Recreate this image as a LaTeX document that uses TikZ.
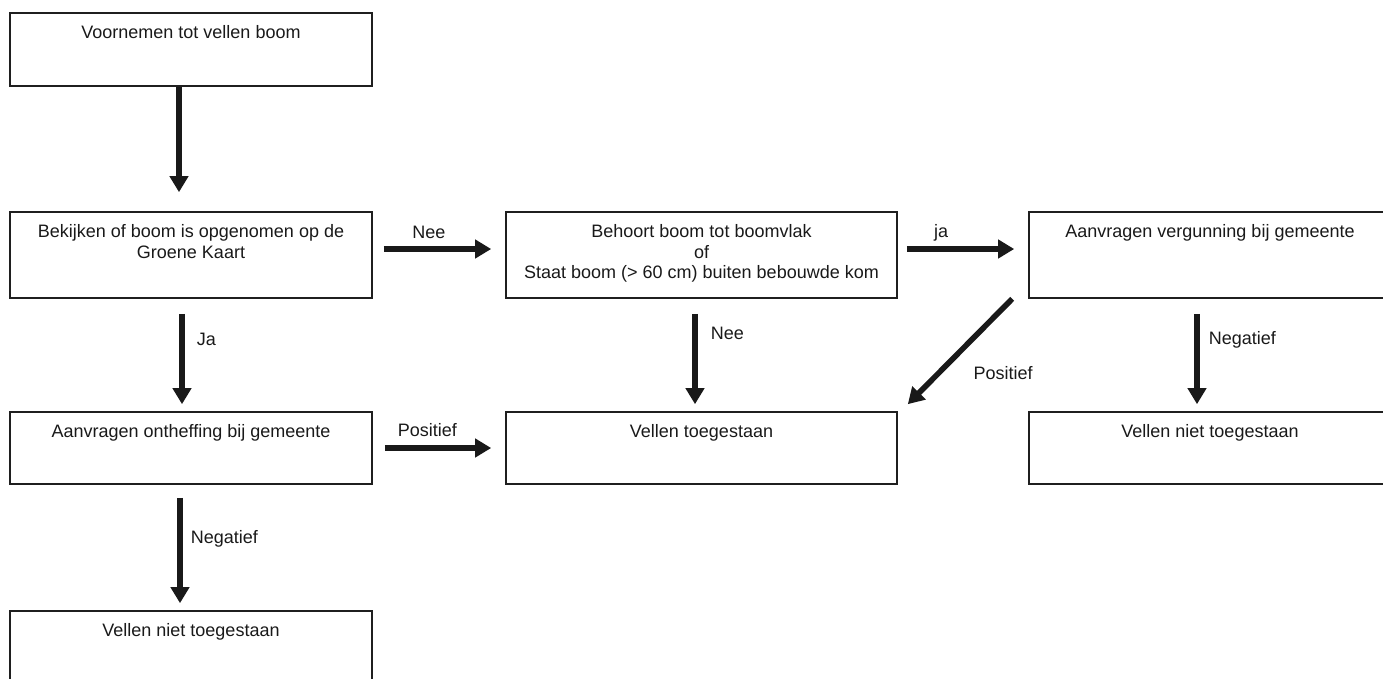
\documentclass[tikz,border=0pt]{standalone}
\usepackage{fontspec}
\setmainfont{Liberation Sans}
\usetikzlibrary{arrows.meta}
\begin{document}
\begin{tikzpicture}[x=1pt,y=-1pt,
    box/.style={draw=black!88, line width=1.6pt, minimum width=362pt, minimum height=86pt, inner sep=0pt},
    txt/.style={anchor=north, align=center, inner sep=13pt, text=black!90, font=\fontsize{18}{20.7}\selectfont},
    lbl/.style={inner sep=0pt, text=black!90, font=\fontsize{18}{20.7}\selectfont},
    arr/.style={-{Triangle[width=18pt,length=16pt]}, line width=5.6pt, black!90}]
\useasboundingbox (0,0) rectangle (1383,678);
\node[box, minimum height=73pt] (1) at (191,49.5) {};
\node[box] (2) at (191,255) {};
\node[box, minimum width=391pt] (3) at (701.5,255) {};
\node[box] (4) at (1210,255) {};
\node[box, minimum height=72pt] (5) at (191,448) {};
\node[box, minimum width=391pt, minimum height=72pt] (6) at (701.5,448) {};
\node[box, minimum height=72pt] (7) at (1210,448) {};
\node[box, minimum height=72pt] (8) at (191,647) {};
% teksten in de vakken
\node[txt] (t1) at (1.north) {Voornemen tot vellen boom};
\node[txt] (t2) at (2.north) {Bekijken of boom is opgenomen op de\\Groene Kaart};
\node[txt] (t3) at (3.north) {Behoort boom tot boomvlak\\of\\Staat boom (> 60 cm) buiten bebouwde kom};
\node[txt] (t4) at (4.north) {Aanvragen vergunning bij gemeente};
\node[txt] (t5) at (5.north) {Aanvragen ontheffing bij gemeente};
\node[txt] (t6) at (6.north) {Vellen toegestaan};
\node[txt] (t7) at (7.north) {Vellen niet toegestaan};
\node[txt] (t8) at (8.north) {Vellen niet toegestaan};
% pijlen
\draw[arr] ([xshift=-12pt]1.south) -- ([xshift=-12pt,yshift=19pt]2.north);
\draw[arr] ([xshift=11pt,yshift=6pt]2.east) -- node[lbl, pos=0.42, yshift=17pt] (l1) {Nee} ([xshift=-14pt,yshift=6pt]3.west);
\draw[arr] ([xshift=9pt,yshift=6pt]3.east) -- node[lbl, pos=0.32, yshift=16pt] (l2) {ja} ([xshift=-14pt,yshift=6pt]4.west);
\draw[arr] ([xshift=-9pt,yshift=-15pt]2.south) -- node[lbl, anchor=west, pos=0.28, xshift=12pt] (l3) {Ja} ([xshift=-9pt,yshift=7pt]5.north);
\draw[arr] ([xshift=-6.5pt,yshift=-15pt]3.south) -- node[lbl, anchor=west, pos=0.22, xshift=13pt] (l4) {Nee} ([xshift=-6.5pt,yshift=7pt]6.north);
\draw[arr] ([xshift=-13pt,yshift=-15pt]4.south) -- node[lbl, anchor=west, pos=0.29, xshift=9pt] (l5) {Negatief} ([xshift=-13pt,yshift=7pt]7.north);
\draw[arr] ([xshift=-16pt]4.south west) -- node[lbl, pos=0.5, xshift=43pt, yshift=-22pt] (l6) {Positief} ([xshift=10pt,yshift=7pt]6.north east);
\draw[arr] ([xshift=12pt]5.east) -- node[lbl, pos=0.40, yshift=18pt] (l7) {Positief} ([xshift=-14pt]6.west);
\draw[arr] ([xshift=-11pt,yshift=-13pt]5.south) -- node[lbl, anchor=west, pos=0.39, xshift=8pt] (l8) {Negatief} ([xshift=-11pt,yshift=7pt]8.north);
\end{tikzpicture}
\end{document}
